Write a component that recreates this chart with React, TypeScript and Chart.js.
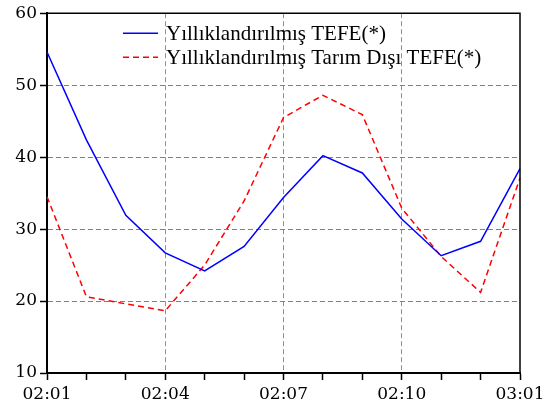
import React, { useEffect, useRef } from "react";
import { Chart, registerables } from "chart.js";

Chart.register(...registerables);

const categories = ["02:01", "02:02", "02:03", "02:04", "02:05", "02:06", "02:07", "02:08", "02:09", "02:10", "02:11", "02:12", "03:01"];
const tefe = [54.6, 42.4, 31.9, 26.7, 24.2, 27.6, 34.4, 40.2, 37.8, 31.4, 26.3, 28.3, 38.4];
const tarimDisi = [34.5, 20.6, 19.6, 18.65, 25.0, 33.9, 45.5, 48.6, 45.9, 32.9, 26.2, 21.2, 37.1];
const seriesNames = ["Yıllıklandırılmış TEFE(*)", "Yıllıklandırılmış Tarım Dışı TEFE(*)"];

const legendPlugin = {
  id: "innerLegend",
  afterDraw(chart: any) {
    const { ctx, chartArea } = chart;
    ctx.save();
    ctx.strokeStyle = "#000";
    ctx.lineWidth = 1.5;
    ctx.beginPath();
    ctx.moveTo(chartArea.left, chartArea.top);
    ctx.lineTo(chartArea.right, chartArea.top);
    ctx.lineTo(chartArea.right, chartArea.bottom);
    ctx.stroke();
    const items = [
      { color: "#0000FF", dash: [] as number[], text: seriesNames[0] },
      { color: "#FF0000", dash: [6, 4], text: seriesNames[1] },
    ];
    const x0 = chartArea.left + 76;
    items.forEach((it, i) => {
      const y = chartArea.top + 20 + i * 24;
      ctx.strokeStyle = it.color;
      ctx.lineWidth = 1.5;
      ctx.setLineDash(it.dash);
      ctx.beginPath();
      ctx.moveTo(x0, y);
      ctx.lineTo(x0 + 35, y);
      ctx.stroke();
      ctx.setLineDash([]);
      ctx.fillStyle = "#000";
      ctx.font = "21px 'Liberation Serif'";
      ctx.textBaseline = "middle";
      ctx.textAlign = "left";
      ctx.fillText(it.text, x0 + 43, y + 1);
    });
    ctx.restore();
  },
};

export default function App() {
  const ref = useRef<HTMLCanvasElement>(null);
  useEffect(() => {
    document.body.style.margin = "0";
    const chart = new Chart(ref.current!, {
      type: "line",
      data: {
        labels: categories,
        datasets: [
          { label: seriesNames[0], data: tefe, borderColor: "#0000FF", borderWidth: 1.5, pointRadius: 0, tension: 0, fill: false },
          { label: seriesNames[1], data: tarimDisi, borderColor: "#FF0000", borderWidth: 1.5, borderDash: [6, 4], pointRadius: 0, tension: 0, fill: false },
        ],
      },
      options: {
        responsive: false,
        animation: false,
        layout: { padding: { top: 13, right: 29, left: 0, bottom: 0 } },
        plugins: { legend: { display: false }, tooltip: { enabled: false } },
        scales: {
          x: {
            offset: false,
            afterFit: (s: any) => { s.height = 37; },
            grid: {
              color: (c: any) => (c.index % 3 === 0 && c.index !== 0 && c.index !== categories.length - 1 ? "#909090" : "rgba(0,0,0,0)"),
              tickColor: "#000",
              tickLength: 7,
              tickWidth: 1.5,
              lineWidth: 1,
            },
            border: { display: true, color: "#000", width: 2, dash: [5, 3] },
            ticks: {
              autoSkip: false,
              maxRotation: 0,
              padding: 4,
              color: "#000",
              font: { family: "'DejaVu Serif'", size: 17 },
              callback: (_v: any, i: number) => (i % 3 === 0 ? categories[i] : ""),
            },
          },
          y: {
            min: 10,
            max: 60,
            afterFit: (s: any) => { s.width = 47; },
            grid: {
              color: (c: any) => (c.tick && c.tick.value > 10 && c.tick.value < 60 ? "#808080" : "rgba(0,0,0,0)"),
              tickColor: "#000",
              tickLength: 7,
              tickWidth: 1.5,
              lineWidth: 1,
            },
            border: { display: true, color: "#000", width: 2, dash: [5, 3] },
            ticks: {
              stepSize: 10,
              padding: 3,
              color: "#000",
              font: { family: "'DejaVu Serif'", size: 17 },
            },
          },
        },
      },
      plugins: [legendPlugin],
    });
    return () => chart.destroy();
  }, []);
  return (
    <div style={{ position: "absolute", left: 0, top: 0, width: 549, height: 410, background: "#fff" }}>
      <canvas ref={ref} width={549} height={410} />
    </div>
  );
}
